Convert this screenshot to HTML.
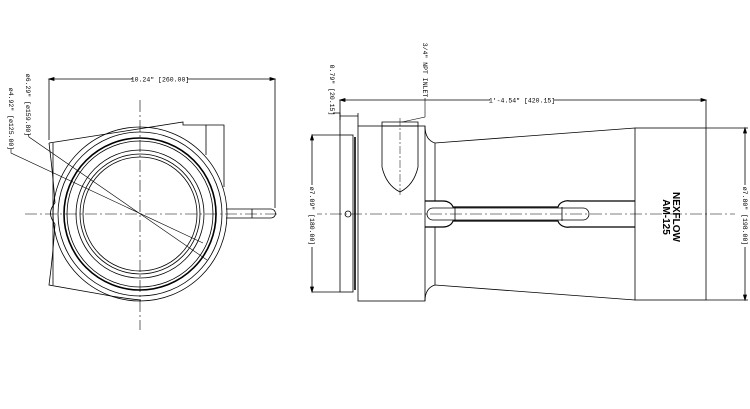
<!DOCTYPE html>
<html><head><style>
html,body{margin:0;padding:0;background:#fff;}
svg{display:block;}
text{font-family:"Liberation Mono","DejaVu Sans Mono",monospace;font-size:6.5px;fill:#000;}
.b{font-family:"Liberation Sans",sans-serif;font-weight:bold;font-size:10px;}
</style></head><body>
<svg width="750" height="409" viewBox="0 0 750 409" xmlns="http://www.w3.org/2000/svg">
<g fill="none" stroke="#000" stroke-width="0.8">
<!-- LEFT VIEW -->
<line x1="49" y1="79" x2="275" y2="79"/>
<path d="M49 79 l5 -1.5 v3z M275 79 l-5 -1.5 v3z" fill="#000"/>
<line x1="49" y1="79" x2="49" y2="140"/>
<line x1="275" y1="79" x2="275" y2="208"/>
<!-- body -->
<path d="M49 143 L183 122 L183 125 L224 125 L224 187"/>
<line x1="206" y1="125" x2="206" y2="155"/>
<path d="M49 143 Q53 175 55 203"/>
<path d="M55 224 Q53 255 49 285 L100 294 Q120 298 141 300"/>
<line x1="53" y1="143" x2="53" y2="285"/>
<path d="M55 203 Q46 213 55 224"/>
<!-- pin -->
<path d="M226 209 L271 209 A4.5 4.5 0 0 1 271 218 L226 218"/>
<line x1="252" y1="209" x2="252" y2="218"/>
<circle cx="140" cy="214" r="87"/>
<circle cx="140" cy="214" r="82"/>
<circle cx="140" cy="214" r="76" stroke-width="1.6"/>
<circle cx="140" cy="214" r="73"/>
<circle cx="140" cy="214" r="64"/>
<circle cx="140" cy="214" r="60"/>
<circle cx="140" cy="214" r="57"/>
<!-- centerlines -->
<line x1="25" y1="214" x2="280" y2="214" stroke-width="0.6" stroke-dasharray="12 3 2 3"/>
<line x1="140" y1="100" x2="140" y2="330" stroke-width="0.6" stroke-dasharray="12 3 2 3"/>
<!-- leaders -->
<path d="M28 134 L29 137 L207 260" stroke-width="0.6"/>
<path d="M11 149 L11 153 L203 243" stroke-width="0.6"/>

<!-- RIGHT VIEW -->
<line x1="340" y1="100" x2="706" y2="100"/>
<path d="M340 100 l5 -1.5 v3z M706 100 l-5 -1.5 v3z" fill="#000"/>
<line x1="340" y1="100" x2="340" y2="135"/>
<line x1="706" y1="100" x2="706" y2="128"/>
<!-- 0.79 dim -->
<path d="M333 113 L340 113 L340 120"/>
<line x1="340" y1="116" x2="358" y2="116"/>
<line x1="358" y1="113" x2="358" y2="126"/>
<!-- inlet leader -->
<path d="M425 98 L425 117 L402 122" stroke-width="0.6"/>
<!-- flange -->
<rect x="340" y="135" width="13" height="157"/>
<line x1="355" y1="137" x2="355" y2="290" stroke-width="1.6"/>
<!-- body -->
<rect x="358" y="126" width="67" height="175"/>
<path d="M425 126 Q425 140 435 143 L635 128 M425 301 Q425 288 435 285 L635 300"/>
<line x1="435" y1="143" x2="435" y2="201"/>
<line x1="435" y1="227" x2="435" y2="285"/>
<rect x="635" y="128" width="71" height="172"/>
<!-- inlet -->
<path d="M382 122 L418 122 L418 167 Q414 185 400 192 Q386 185 382 167 Z"/>
<line x1="382" y1="126" x2="418" y2="126"/>
<line x1="400" y1="118" x2="400" y2="195" stroke-width="0.5" stroke-dasharray="8 2 2 2"/>
<!-- slot -->
<path d="M425 201 L443 201 A10 8 0 0 1 453 207 L558 207 A10 8 0 0 1 570 201 L635 201" stroke-width="1.2"/>
<path d="M425 227 L443 227 A10 8 0 0 0 453 221 L558 221 A10 8 0 0 0 570 227 L635 227" stroke-width="1.2"/>
<path d="M433 208 L583 208 A6 6 0 0 1 583 220 L433 220 A6 6 0 0 1 433 208Z"/>
<line x1="455" y1="207" x2="455" y2="221"/>
<line x1="562" y1="207" x2="562" y2="221"/>
<circle cx="348" cy="214" r="3"/>
<line x1="310" y1="214" x2="735" y2="214" stroke-width="0.6" stroke-dasharray="12 3 2 3"/>
<!-- side dims -->
<line x1="312" y1="135" x2="312" y2="292"/>
<path d="M312 135 l-1.5 5 h3z M312 292 l-1.5 -5 h3z" fill="#000"/>
<line x1="312" y1="135" x2="340" y2="135"/>
<line x1="312" y1="292" x2="340" y2="292"/>
<line x1="745" y1="128" x2="745" y2="300"/>
<path d="M745 128 l-1.5 5 h3z M745 300 l-1.5 -5 h3z" fill="#000"/>
<line x1="706" y1="128" x2="748" y2="128"/>
<line x1="706" y1="300" x2="748" y2="300"/>
</g>
<rect x="133" y="75" width="54" height="8" fill="#fff"/>
<text x="160" y="81.5" text-anchor="middle">10.24" [260.00]</text>
<rect x="490" y="96" width="64" height="8" fill="#fff"/>
<text x="522" y="102.5" text-anchor="middle">1'-4.54" [420.15]</text>
<text transform="translate(26,105) rotate(90)" text-anchor="middle">ø6.29" [ø159.80]</text>
<text transform="translate(9,119) rotate(90)" text-anchor="middle">ø4.92" [ø125.00]</text>
<text transform="translate(330,90) rotate(90)" text-anchor="middle">0.79" [20.15]</text>
<text transform="translate(423,70) rotate(90)" text-anchor="middle">3/4" NPT INLET</text>
<rect x="307" y="185" width="10" height="62" fill="#fff"/>
<text transform="translate(310,216) rotate(90)" text-anchor="middle">ø7.09" [180.00]</text>
<rect x="740" y="185" width="10" height="62" fill="#fff"/>
<text transform="translate(743,216) rotate(90)" text-anchor="middle">ø7.80" [198.00]</text>
<text class="b" transform="translate(673,217) rotate(90)" text-anchor="middle">NEXFLOW</text>
<text class="b" transform="translate(663,217) rotate(90)" text-anchor="middle">AM-125</text>
</svg>
</body></html>
